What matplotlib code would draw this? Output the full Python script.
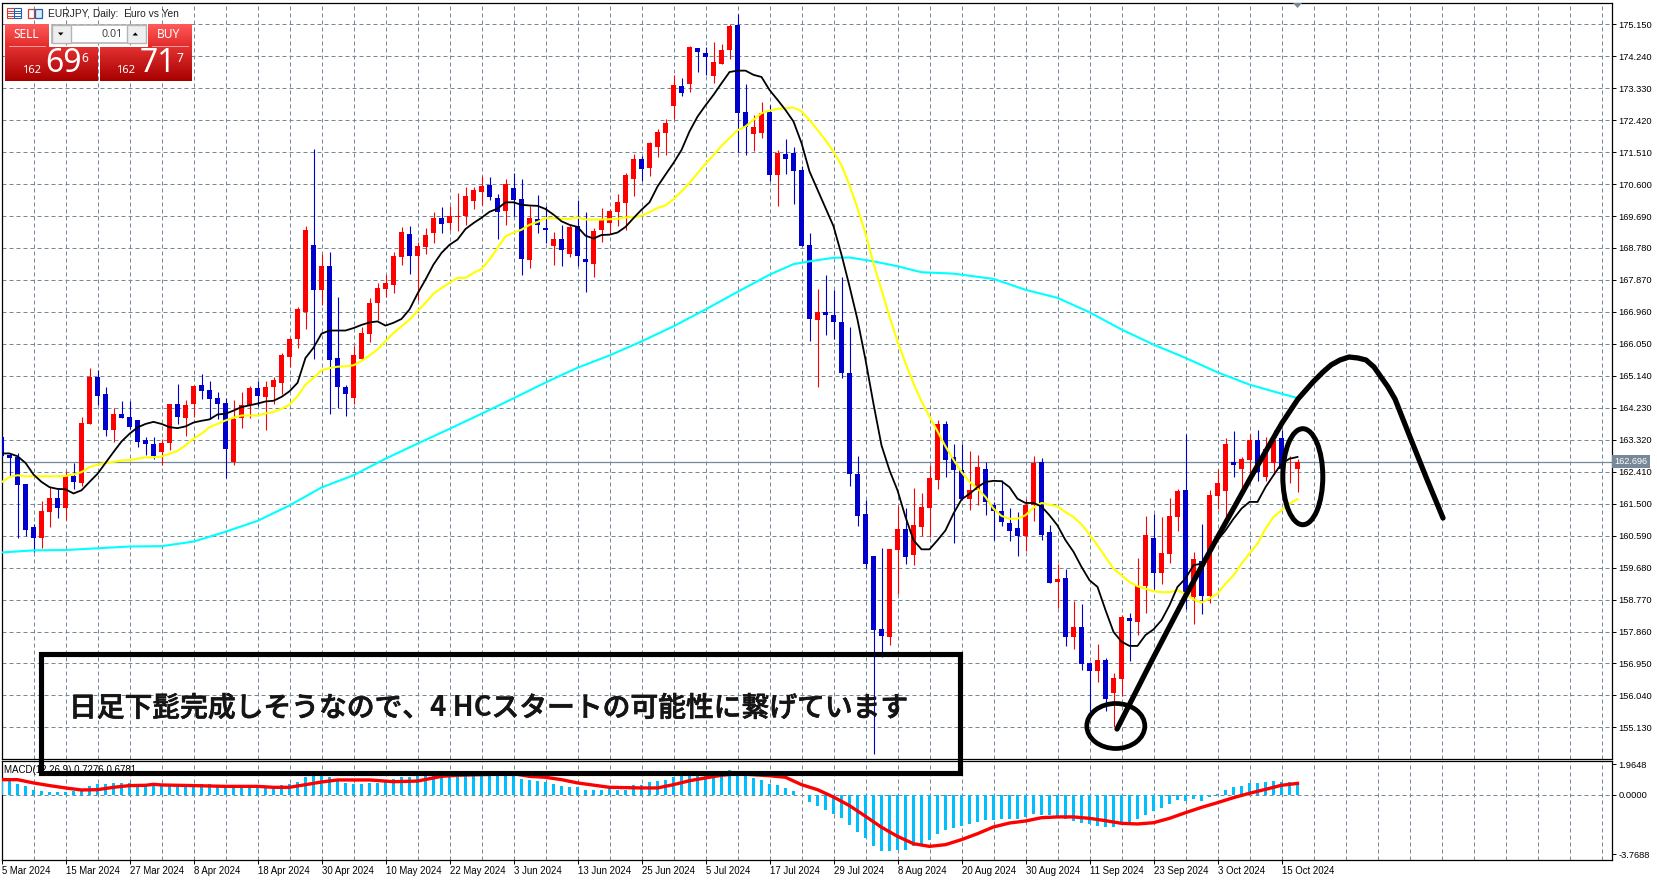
"""EURJPY daily chart (MT5 style) with MA lines, MACD panel and hand-drawn notes."""

import numpy as np
import matplotlib.pyplot as plt
import matplotlib.patheffects as pe
from matplotlib.colors import LinearSegmentedColormap
from matplotlib.patches import Ellipse, Polygon, Rectangle
from matplotlib.transforms import blended_transform_factory

W, H = 1657, 880
LABEL_FONT = "Liberation Sans"
GRID = "#778899"

opens = [
    163.39, 162.90, 162.82, 162.05, 160.85, 160.51, 161.25, 161.65, 161.37, 162.28,
    162.08, 163.78, 165.12, 164.61, 163.59, 164.04, 163.98, 163.87, 163.30, 163.19,
    162.96, 163.22, 164.35, 163.95, 164.35, 164.87, 164.75, 164.50, 164.38, 162.70,
    163.94, 164.30, 164.78, 164.55, 164.81, 164.95, 165.69, 166.20, 166.97, 168.87,
    167.57, 168.28, 165.66, 164.81, 164.52, 165.63, 166.34, 167.20, 167.62, 167.74,
    168.53, 169.19, 168.56, 168.82, 169.22, 169.64, 169.50, 169.67, 169.70, 170.13,
    170.38, 170.58, 170.21, 169.84, 170.50, 170.18, 168.45, 169.61, 169.36, 168.85,
    169.05, 168.62, 169.42, 168.48, 168.33, 169.30, 169.50, 169.81, 170.07, 170.75,
    171.32, 171.06, 171.66, 172.06, 172.83, 173.40, 173.45, 174.48, 174.33, 173.68,
    174.02, 174.42, 175.13, 172.66, 172.03, 172.06, 172.66, 170.87, 171.46, 171.49,
    171.01, 168.87, 166.74, 166.97, 166.88, 166.66, 165.22, 162.34, 161.20, 160.00,
    157.93, 157.70, 160.17, 160.77, 160.03, 160.83, 161.37, 162.16, 163.78, 162.82,
    162.45, 161.62, 161.88, 162.48, 161.45, 161.28, 160.94, 160.80, 160.57, 161.45,
    162.70, 160.68, 159.26, 159.38, 157.70, 157.98, 156.96, 156.73, 157.04, 156.11,
    156.50, 158.24, 158.12, 159.15, 160.51, 159.52, 160.06, 161.11, 161.88, 158.84,
    159.86, 158.87, 161.71, 161.85, 162.68, 162.50, 162.73, 163.31, 162.25, 162.65,
    163.36, 162.48, 162.50,
]
highs = [
    163.44, 162.95, 162.94, 162.05, 160.91, 161.59, 161.97, 161.91, 162.42, 162.67,
    163.98, 165.35, 165.32, 164.81, 164.21, 164.41, 164.41, 163.87, 163.41, 163.41,
    163.33, 164.35, 164.92, 164.44, 164.89, 165.18, 164.98, 164.69, 164.50, 164.44,
    164.69, 164.84, 164.98, 164.98, 165.12, 165.78, 166.23, 167.11, 169.42, 171.60,
    168.62, 168.68, 167.39, 164.89, 166.00, 166.54, 167.37, 167.77, 168.01, 168.68,
    169.39, 169.42, 168.96, 169.36, 169.81, 169.96, 169.98, 170.35, 170.52, 170.52,
    170.82, 170.81, 170.33, 170.75, 170.92, 170.75, 169.98, 170.30, 169.98, 169.24,
    169.44, 169.44, 170.16, 169.81, 169.36, 169.93, 169.90, 170.33, 170.92, 171.46,
    171.41, 171.80, 172.17, 172.46, 173.71, 173.62, 174.53, 174.48, 174.51, 174.65,
    174.59, 175.16, 175.44, 173.45, 172.57, 172.94, 172.86, 171.58, 171.89, 171.66,
    171.12, 169.22, 167.62, 168.02, 167.57, 167.96, 166.53, 162.87, 161.60, 160.00,
    160.23, 160.20, 161.42, 161.37, 161.94, 161.79, 162.59, 163.87, 163.84, 163.19,
    163.19, 162.99, 162.90, 162.70, 161.55, 162.16, 161.37, 161.25, 161.62, 162.87,
    162.79, 160.88, 159.77, 159.63, 158.72, 158.64, 157.00, 157.50, 157.10, 156.67,
    158.32, 158.38, 159.95, 161.14, 161.20, 161.11, 161.65, 161.91, 163.47, 160.12,
    160.91, 161.88, 162.48, 163.36, 163.56, 162.82, 163.47, 163.59, 163.39, 163.59,
    163.59, 162.87, 162.78,
]
lows = [
    162.83, 162.28, 160.52, 160.59, 160.13, 160.23, 160.85, 161.08, 161.03, 161.91,
    161.99, 163.78, 164.30, 163.44, 163.27, 163.93, 163.64, 163.10, 162.90, 162.76,
    162.59, 163.04, 163.76, 163.44, 163.98, 164.47, 163.90, 163.90, 162.24, 162.59,
    163.66, 163.94, 164.27, 163.61, 164.33, 164.61, 165.40, 165.92, 166.46, 165.63,
    167.17, 164.04, 164.21, 164.01, 164.35, 165.60, 166.09, 166.74, 167.39, 167.51,
    168.31, 168.05, 167.31, 168.62, 168.93, 169.22, 169.30, 169.27, 169.44, 169.90,
    170.01, 170.16, 169.05, 169.44, 169.70, 168.02, 168.22, 169.22, 168.92, 168.31,
    168.28, 168.51, 168.28, 167.54, 167.94, 168.96, 169.19, 169.42, 169.30, 170.27,
    170.69, 170.84, 171.38, 171.43, 172.46, 173.11, 173.23, 173.79, 173.71, 173.48,
    174.02, 174.16, 171.51, 171.43, 171.55, 171.92, 170.69, 169.98, 170.89, 170.04,
    168.83, 166.14, 164.81, 166.31, 166.20, 165.09, 162.01, 160.86, 159.66, 154.37,
    157.14, 157.47, 158.92, 159.77, 159.75, 160.57, 160.54, 161.91, 162.25, 160.37,
    161.60, 161.31, 161.45, 161.17, 160.46, 160.86, 160.43, 160.00, 160.14, 161.00,
    160.46, 159.23, 158.52, 157.44, 157.36, 156.76, 155.48, 156.42, 155.59, 155.13,
    156.02, 157.02, 157.76, 158.38, 159.06, 159.21, 159.80, 160.71, 158.51, 158.07,
    158.35, 158.67, 161.34, 161.03, 162.25, 161.93, 162.35, 162.14, 162.14, 162.35,
    162.45, 162.08, 161.82,
]
closes = [
    162.87, 162.79, 162.02, 160.74, 160.51, 161.28, 161.65, 161.37, 162.28, 162.11,
    163.81, 165.12, 164.58, 163.61, 164.04, 163.95, 163.67, 163.27, 163.19, 162.87,
    163.22, 164.35, 163.98, 164.30, 164.84, 164.72, 164.47, 164.35, 163.07, 163.90,
    164.30, 164.78, 164.58, 164.81, 165.01, 165.72, 166.20, 167.03, 169.30, 167.57,
    168.28, 165.60, 164.81, 164.61, 165.72, 166.37, 167.20, 167.65, 167.77, 168.56,
    169.24, 168.56, 168.85, 169.16, 169.64, 169.47, 169.70, 169.70, 170.27, 170.44,
    170.55, 170.24, 169.81, 170.61, 170.16, 168.48, 169.64, 169.44, 169.30, 169.05,
    168.73, 169.39, 168.56, 168.39, 169.27, 169.59, 169.84, 170.10, 170.87, 171.32,
    171.04, 171.78, 172.09, 172.34, 173.43, 173.20, 174.51, 174.36, 174.22, 174.08,
    174.42, 175.10, 172.63, 172.23, 172.23, 172.63, 170.87, 171.49, 171.32, 170.98,
    168.85, 166.77, 166.97, 166.88, 166.66, 165.21, 162.35, 161.14, 159.77, 157.90,
    157.73, 160.20, 160.77, 159.97, 160.88, 161.40, 162.22, 163.78, 162.73, 162.45,
    161.62, 161.88, 162.53, 161.54, 161.28, 160.97, 160.71, 160.57, 161.45, 162.65,
    160.60, 159.23, 159.35, 157.70, 157.98, 156.93, 156.73, 157.04, 155.94, 156.53,
    158.27, 158.15, 159.15, 160.60, 159.52, 160.09, 161.14, 161.85, 158.92, 159.92,
    158.87, 161.74, 162.08, 163.19, 162.59, 162.76, 163.31, 162.39, 163.07, 163.32,
    162.50, 162.50, 162.70,
]
ma_fast = [
    162.93, 162.93, 162.85, 162.66, 162.33, 162.12, 161.97, 161.92, 161.91, 161.79,
    161.88, 162.12, 162.35, 162.66, 162.97, 163.27, 163.49, 163.67, 163.77, 163.83,
    163.77, 163.68, 163.65, 163.70, 163.81, 163.86, 163.90, 164.04, 164.06, 164.15,
    164.25, 164.30, 164.35, 164.41, 164.43, 164.54, 164.70, 164.94, 165.65, 165.94,
    166.34, 166.43, 166.43, 166.43, 166.50, 166.59, 166.66, 166.69, 166.57, 166.65,
    166.76, 167.03, 167.48, 167.88, 168.31, 168.64, 168.87, 169.02, 169.32, 169.49,
    169.64, 169.81, 169.90, 170.08, 170.08, 170.01, 169.99, 169.98, 169.89, 169.73,
    169.54, 169.44, 169.38, 169.13, 169.05, 169.15, 169.16, 169.22, 169.38, 169.63,
    169.87, 170.08, 170.53, 170.87, 171.20, 171.57, 172.10, 172.52, 172.84, 173.14,
    173.47, 173.79, 173.83, 173.83, 173.71, 173.65, 173.28, 173.00, 172.71, 172.38,
    171.77, 170.96, 170.44, 169.92, 169.40, 168.59, 167.69, 166.74, 165.60, 164.34,
    163.16, 162.45, 161.88, 161.12, 160.46, 160.20, 160.20, 160.46, 160.74, 161.22,
    161.62, 161.78, 161.97, 162.12, 162.15, 162.14, 161.97, 161.64, 161.52, 161.52,
    161.42, 161.17, 160.88, 160.46, 160.13, 159.70, 159.32, 159.13, 158.47, 157.85,
    157.57, 157.45, 157.45, 157.76, 157.92, 158.18, 158.61, 159.13, 159.37, 159.75,
    159.79, 160.13, 160.46, 160.74, 161.07, 161.36, 161.55, 161.55, 161.97, 162.31,
    162.64, 162.78, 162.83,
]
ma_mid = [
    162.11, 162.26, 162.31, 162.28, 162.28, 162.28, 162.28, 162.28, 162.29, 162.33,
    162.40, 162.54, 162.61, 162.66, 162.69, 162.73, 162.74, 162.78, 162.82, 162.82,
    162.84, 162.92, 163.00, 163.16, 163.35, 163.49, 163.68, 163.77, 163.87, 163.95,
    164.01, 164.01, 164.01, 164.07, 164.11, 164.20, 164.32, 164.56, 164.89, 165.08,
    165.30, 165.36, 165.40, 165.41, 165.44, 165.56, 165.72, 165.89, 166.13, 166.36,
    166.55, 166.74, 166.98, 167.22, 167.48, 167.64, 167.79, 167.93, 167.93, 168.07,
    168.18, 168.45, 168.78, 169.11, 169.22, 169.30, 169.44, 169.52, 169.63, 169.63,
    169.61, 169.61, 169.65, 169.59, 169.59, 169.59, 169.60, 169.61, 169.65, 169.66,
    169.70, 169.80, 169.92, 169.99, 170.17, 170.39, 170.63, 170.91, 171.18, 171.42,
    171.69, 171.91, 172.13, 172.24, 172.43, 172.62, 172.69, 172.74, 172.76, 172.78,
    172.67, 172.42, 172.14, 171.85, 171.52, 171.14, 170.57, 169.91, 169.20, 168.34,
    167.59, 166.83, 166.12, 165.50, 164.93, 164.41, 163.98, 163.56, 163.13, 162.75,
    162.40, 162.12, 161.93, 161.69, 161.36, 161.15, 161.07, 161.07, 161.17, 161.39,
    161.52, 161.47, 161.42, 161.26, 161.12, 160.91, 160.62, 160.31, 159.98, 159.65,
    159.46, 159.27, 159.15, 159.08, 159.01, 158.98, 158.98, 159.03, 158.94, 158.78,
    158.68, 158.80, 158.94, 159.22, 159.46, 159.79, 160.08, 160.36, 160.79, 161.12,
    161.31, 161.50, 161.63,
]
ma_slow_idx = [0, 4, 8, 12, 16, 20, 24, 28, 32, 36, 40, 44, 48, 52, 56, 60, 64, 68, 72, 76, 80,
               84, 88, 92, 96, 99, 101, 104, 106, 109, 112, 115, 119, 124, 128, 132, 136, 140,
               144, 148, 152, 156, 160, 162]
ma_slow = [160.11, 160.17, 160.18, 160.23, 160.28, 160.29, 160.42, 160.70, 161.01, 161.45,
           161.96, 162.31, 162.78, 163.21, 163.63, 164.06, 164.50, 164.95, 165.37, 165.72,
           166.12, 166.55, 167.03, 167.53, 168.02, 168.32, 168.40, 168.50, 168.51, 168.40,
           168.26, 168.09, 168.05, 167.90, 167.59, 167.36, 166.95, 166.46, 166.03, 165.65,
           165.24, 164.89, 164.63, 164.51]
macd_hist = [
    0.96, 0.91, 0.72, 0.55, 0.34, 0.28, 0.19, 0.17, 0.21, 0.23,
    0.30, 0.55, 0.72, 0.72, 0.79, 0.79, 0.79, 0.72, 0.66, 0.66,
    0.66, 0.55, 0.60, 0.55, 0.60, 0.72, 0.70, 0.60, 0.60, 0.49,
    0.49, 0.49, 0.45, 0.45, 0.55, 0.66, 0.72, 0.85, 1.17, 1.26,
    1.30, 1.17, 0.98, 0.79, 0.72, 0.72, 0.79, 0.79, 0.83, 1.02,
    1.17, 1.17, 1.23, 1.30, 1.30, 1.26, 1.23, 1.23, 1.23, 1.28,
    1.30, 1.30, 1.30, 1.30, 1.23, 1.04, 0.98, 0.91, 0.81, 0.72,
    0.60, 0.51, 0.49, 0.34, 0.34, 0.34, 0.45, 0.34, 0.34, 0.66,
    0.66, 0.81, 0.91, 0.98, 1.13, 1.23, 1.23, 1.30, 1.30, 1.36,
    1.40, 1.62, 1.36, 1.23, 1.09, 0.98, 0.72, 0.62, 0.45, 0.28,
    0.00, -0.43, -0.72, -0.98, -1.19, -1.45, -1.89, -2.34, -2.72, -3.23,
    -3.55, -3.55, -3.51, -3.49, -3.28, -3.11, -2.85, -2.47, -2.26, -2.09,
    -1.96, -1.83, -1.70, -1.62, -1.57, -1.51, -1.51, -1.51, -1.40, -1.19,
    -1.26, -1.30, -1.40, -1.53, -1.64, -1.77, -1.88, -1.97, -2.04, -2.02,
    -1.74, -1.72, -1.51, -1.28, -1.02, -0.81, -0.57, -0.32, -0.36, -0.28,
    -0.38, -0.11, 0.06, 0.32, 0.49, 0.57, 0.79, 0.79, 0.85, 0.89,
    0.85, 0.81, 0.79,
]
macd_sig_idx = [0, 2, 4, 6, 8, 10, 12, 14, 16, 18, 19, 20, 24, 28, 32, 34, 36, 38, 40, 42, 46, 49,
                52, 55, 57, 60, 64, 66, 68, 70, 72, 76, 80, 82, 84, 86, 88, 90, 92, 96, 98, 100,
                102, 104, 106, 108, 110, 112, 114, 116, 118, 120, 122, 124, 126, 128, 130, 132,
                134, 136, 138, 140, 142, 144, 146, 148, 150, 152, 154, 156, 158, 160, 162]
macd_sig = [0.98, 0.98, 0.77, 0.60, 0.45, 0.32, 0.34, 0.49, 0.60, 0.62, 0.68, 0.64, 0.60, 0.55,
            0.55, 0.49, 0.49, 0.66, 0.83, 0.96, 0.96, 0.85, 0.89, 1.19, 1.26, 1.30, 1.36, 1.19,
            1.13, 0.98, 0.77, 0.49, 0.45, 0.45, 0.66, 0.91, 1.09, 1.26, 1.36, 1.23, 1.13, 0.66,
            0.34, -0.13, -0.68, -1.36, -2.06, -2.64, -3.11, -3.28, -3.17, -2.85, -2.47, -2.04,
            -1.79, -1.66, -1.45, -1.40, -1.40, -1.49, -1.64, -1.81, -1.85, -1.77, -1.49, -1.13,
            -0.79, -0.49, -0.17, 0.11, 0.36, 0.62, 0.74]

price_ticks = [155.13, 156.04, 156.95, 157.86, 158.77, 159.68, 160.59, 161.50, 162.41, 163.32,
               164.23, 165.14, 166.05, 166.96, 167.87, 168.78, 169.69, 170.60, 171.51, 172.42,
               173.33, 174.24, 175.15]
macd_ticks = [1.9648, 0.0, -3.7688]
macd_tick_labels = ["1.9648", "0.0000", "-3.7688"]
date_labels = ["5 Mar 2024", "15 Mar 2024", "27 Mar 2024", "8 Apr 2024", "18 Apr 2024",
               "30 Apr 2024", "10 May 2024", "22 May 2024", "3 Jun 2024", "13 Jun 2024",
               "25 Jun 2024", "5 Jul 2024", "17 Jul 2024", "29 Jul 2024", "8 Aug 2024",
               "20 Aug 2024", "30 Aug 2024", "11 Sep 2024", "23 Sep 2024", "3 Oct 2024",
               "15 Oct 2024"]
last_price = 162.696

# hand-drawn notes, in image pixels
rise_x = [1117, 1150, 1185, 1216, 1251, 1282, 1298, 1313, 1323, 1331, 1340, 1349, 1358, 1366,
          1374, 1381, 1388, 1395, 1410, 1426, 1443]
rise_y = [729, 664, 597, 540, 477, 423, 399, 382, 372, 365, 360, 357, 358, 360, 367, 377, 387,
          399, 437, 477, 518]

opens, highs, lows, closes = map(np.array, (opens, highs, lows, closes))
x = np.arange(len(opens))
up = closes >= opens
colors = np.where(up, "#FF0000", "#0000CD")


def axes_box(left, top, right, bottom):
    return [left / W, 1 - bottom / H, (right - left) / W, (bottom - top) / H]


fig = plt.figure(figsize=(W / 100, H / 100), dpi=100, facecolor="white")
ax = fig.add_axes(axes_box(1.5, 2.5, 1612, 759))
ax2 = fig.add_axes(axes_box(1.5, 761, 1612, 860))
xmax = (1612 - 1.5) / 8

# --- Price panel ---
ax.vlines(x, lows, highs, colors=colors, lw=0.8, zorder=3)
ax.bar(x, np.abs(closes - opens), bottom=np.minimum(opens, closes), width=0.62, color=colors,
       zorder=3, linewidth=0)
ax.plot(ma_slow_idx, ma_slow, color="#00FFFF", lw=1.5, zorder=4)
ax.plot(x, ma_mid, color="#FFFF00", lw=1.5, zorder=4)
ax.plot(x, ma_fast, color="black", lw=1.3, zorder=5)
ax.axhline(last_price, color=GRID, lw=0.9, zorder=2)

ax.set_xlim(0, xmax)
ax.set_ylim(154.23, 175.77)
ax.set_yticks(price_ticks)
ax.set_yticklabels([f"{v:.3f}" for v in price_ticks])
ax.text(1.0015, last_price, f"{last_price:.3f}", color="white", fontsize=6.6, family=LABEL_FONT,
        va="center", ha="left", clip_on=False, zorder=6,
        transform=blended_transform_factory(ax.transAxes, ax.transData),
        bbox=dict(fc=GRID, ec="none", pad=1.5))

# --- MACD panel ---
ax2.bar(x, macd_hist, width=0.44, color="#00BFFF", linewidth=0, zorder=3)
ax2.plot(macd_sig_idx, macd_sig, color="#FF0000", lw=2.4, zorder=4)
ax2.axhline(0, color=GRID, lw=0.72, ls=(0, (4, 3)), zorder=1)
ax2.set_xlim(0, xmax)
ax2.set_ylim(-4.15, 2.17)
ax2.set_yticks(macd_ticks)
ax2.set_yticklabels(macd_tick_labels)
ax2.text(0.0018, 0.905, "MACD(12,26,9) 0.7276 0.6781", transform=ax2.transAxes, fontsize=7.0,
         family=LABEL_FONT, va="center", zorder=5)

for a in (ax, ax2):
    a.yaxis.tick_right()
    a.tick_params(axis="y", length=3, width=0.7, pad=1.5, labelsize=6.7)
    for lab in a.get_yticklabels():
        lab.set_family(LABEL_FONT)
    for s in a.spines.values():
        s.set_linewidth(0.9)
    a.set_xticks(np.arange(0, xmax, 4), minor=True)
    a.grid(True, which="minor", axis="x", color=GRID, lw=0.72, ls=(0, (4, 3)), zorder=1)
    a.set_axisbelow(True)
    a.tick_params(axis="x", which="minor", length=0)
    a.set_xticks(np.arange(0, xmax, 8))
    a.grid(True, which="major", axis="x", color=GRID, lw=0.72, ls=(0, (4, 3)), zorder=1)
ax.grid(True, which="major", axis="y", color=GRID, lw=0.72, ls=(0, (4, 3)), zorder=1)
ax.tick_params(axis="x", which="major", length=0, labelbottom=False)

ax2.set_xticks(np.arange(0, 8 * len(date_labels), 8))
ax2.set_xticklabels(date_labels, ha="left", family=LABEL_FONT, fontsize=6.9)
ax2.tick_params(axis="x", which="major", length=3, width=0.7, pad=1.5)

# --- Overlay in image pixels: trade panel, notes ---
ov = fig.add_axes([0, 0, 1, 1], facecolor="none", zorder=10)
ov.axis("off")


def gradient(left, top, right, bottom, c_top, c_bottom):
    cmap = LinearSegmentedColormap.from_list("g", [c_top, c_bottom])
    ov.imshow(np.linspace(0, 1, 40).reshape(-1, 1), cmap=cmap, aspect="auto",
              extent=(left, right, bottom, top), zorder=1)


gradient(5, 24, 49, 48, "#FF5A5A", "#E02828")
gradient(5, 47, 97.5, 81, "#E23030", "#A80000")
gradient(148, 24, 192, 48, "#FF5A5A", "#E02828")
gradient(100, 47, 192, 81, "#E23030", "#A80000")
ov.plot([9, 45], [46, 46], color="#F5A0A0", lw=0.7, zorder=2)
ov.plot([152, 188], [46, 46], color="#F5A0A0", lw=0.7, zorder=2)
ov.add_patch(Rectangle((52, 25), 94, 18.5, fc="white", ec="#B4B4B4", lw=1.2, zorder=1))
ov.add_patch(Rectangle((52, 25), 19, 18.5, fc="#EFEFEF", ec="#B4B4B4", lw=1.0, zorder=1))
ov.add_patch(Rectangle((127, 25), 19, 18.5, fc="#EFEFEF", ec="#B4B4B4", lw=1.0, zorder=1))
ov.add_patch(Polygon([[58, 32.5], [63.5, 32.5], [60.7, 35.5]], fc="black", zorder=2))
ov.add_patch(Polygon([[132.5, 35.5], [138, 35.5], [135.3, 32.5]], fc="black", zorder=2))
ui = dict(family="Noto Sans", color="white", va="center", zorder=3)
ov.text(26, 34.5, "SELL", ha="center", fontsize=8.6, **ui)
ov.text(169, 34.5, "BUY", ha="center", fontsize=8.6, **ui)
ov.text(122.5, 34.5, "0.01", ha="right", fontsize=7.8, family="Noto Sans", color="#444444",
        va="center", zorder=3)
ov.text(32, 70.7, "162", ha="center", fontsize=8.0, **ui)
ov.text(64, 63.5, "69", ha="center", fontsize=23, **ui)
ov.text(85, 58, "6", ha="center", fontsize=8.6, **ui)
ov.text(126, 70.7, "162", ha="center", fontsize=8.0, **ui)
ov.text(158, 63.5, "71", ha="center", fontsize=23, **ui)
ov.text(180, 58, "7", ha="center", fontsize=8.6, **ui)

# chart title and its two small icons
for i, c in enumerate(["#D04030", "#2060B0"]):
    ov.add_patch(Rectangle((7 + i * 7, 8.5), 6.5, 9.5, fc="white", ec=c, lw=0.8, zorder=2))
    for yy in (11, 13.3, 15.6):
        ov.plot([8 + i * 7, 12.5 + i * 7], [yy, yy], color=c, lw=0.7, zorder=2)
ov.add_patch(Rectangle((27.5, 9), 6.5, 9, fc="white", ec="#D04030", lw=0.9, zorder=2))
ov.add_patch(Rectangle((35, 9), 6.5, 9, fc="#D8ECF8", ec="#2060B0", lw=0.9, zorder=2))
ov.text(47.5, 14, "EURJPY, Daily:  Euro vs Yen", fontsize=7.4, family=LABEL_FONT, va="center",
        color="#222222", zorder=3)

# shift marker at the top of the chart
ov.add_patch(Polygon([[1293, 3], [1302, 3], [1297.5, 8]], fc=GRID, ec="none", zorder=2))

# text box
ov.add_patch(Rectangle((40.5, 654.5), 919, 119, fc="none", ec="black", lw=3.7, zorder=6))
jp = dict(family=["Noto Sans CJK JP", "DejaVu Sans"], fontsize=20.0, color="#151515", zorder=7)
thicken = [pe.withStroke(linewidth=0.5, foreground="#151515")]
t1 = ov.text(69, 708, "日足下髭完成しそうなので、", va="center", ha="left", weight="medium",
             path_effects=thicken, **jp)
t2 = ov.annotate("4 HC", xy=(1, 0), xycoords=t1, va="bottom", ha="left", weight="bold", **jp)
ov.annotate("スタートの可能性に繋げています", xy=(1, 0), xycoords=t2, va="bottom", ha="left",
            weight="medium", path_effects=thicken, **jp)

# hand-drawn strokes
ov.plot(rise_x, rise_y, color="black", lw=3.8, solid_capstyle="round", solid_joinstyle="round",
        zorder=8)
ov.add_patch(Ellipse((1115.8, 726), 58, 45, fc="none", ec="black", lw=3.4, zorder=8))
ov.add_patch(Ellipse((1302.8, 476.7), 40, 96, fc="none", ec="black", lw=3.6, zorder=8))

ov.set_xlim(0, W)
ov.set_ylim(H, 0)

fig.savefig("out.png", dpi=100)
